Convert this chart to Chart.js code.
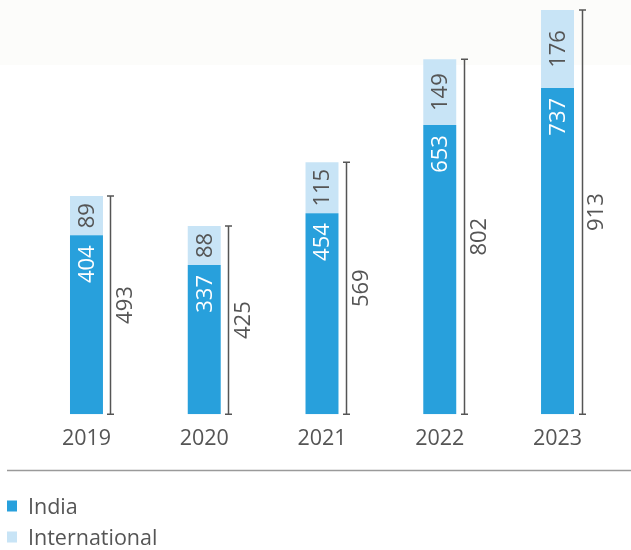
<!DOCTYPE html>
<html>
<head>
<meta charset="utf-8">
<script src="https://cdn.jsdelivr.net/npm/chart.js@4.4.0/dist/chart.umd.min.js"></script>
<style>
  html, body { margin: 0; padding: 0; background: #ffffff; }
  #wrap { position: relative; width: 631px; height: 550px; }
</style>
</head>
<body>
<div id="wrap"><canvas id="c"></canvas></div>
<script>
const categories = ['2019', '2020', '2021', '2022', '2023'];
const indiaValues = [404, 337, 454, 653, 737];
const internationalValues = [89, 88, 115, 149, 176];
const totalValues = [493, 425, 569, 802, 913];
const seriesNames = ['India', 'International'];

const TEXT = '#555555';
const FONT = '"Open Sans", Lato, sans-serif';

const decorPlugin = {
  id: 'decor',
  beforeDraw(chart) {
    const ctx = chart.ctx;
    ctx.save();
    ctx.fillStyle = '#fcfcfa';
    ctx.fillRect(0, 0, chart.width, 65);
    ctx.restore();
  },
  afterDatasetsDraw(chart) {
    const ctx = chart.ctx;
    const y = chart.scales.y;
    const m0 = chart.getDatasetMeta(0);
    const m1 = chart.getDatasetMeta(1);
    ctx.save();
    ctx.font = '22px ' + FONT;
    ctx.textBaseline = 'middle';
    categories.forEach((c, i) => {
      const b0 = m0.data[i];
      const b1 = m1.data[i];
      const cx = b0.x;
      const half = b0.width / 2;
      const right = cx + half;
      const bottom = y.getPixelForValue(0);
      const boundary = b0.y;
      const top = b1.y;
      // India label (white, anchored at top of segment)
      ctx.save();
      ctx.translate(cx + 1, boundary + 10);
      ctx.rotate(-Math.PI / 2);
      ctx.fillStyle = '#ffffff';
      ctx.textAlign = 'right';
      ctx.fillText(String(indiaValues[i]), 0, 0);
      ctx.restore();
      // International label (centered)
      ctx.save();
      ctx.translate(cx + 1, (boundary + top) / 2);
      ctx.rotate(-Math.PI / 2);
      ctx.fillStyle = TEXT;
      ctx.textAlign = 'center';
      ctx.fillText(String(internationalValues[i]), 0, 0);
      ctx.restore();
      // bracket
      const bx = Math.round(right + 7.5) + 0.5;
      ctx.strokeStyle = '#555555';
      ctx.lineWidth = 1.5;
      ctx.beginPath();
      ctx.moveTo(bx, top);
      ctx.lineTo(bx, bottom);
      ctx.moveTo(bx - 3.5, top);
      ctx.lineTo(bx + 3.5, top);
      ctx.moveTo(bx - 3.5, bottom);
      ctx.lineTo(bx + 3.5, bottom);
      ctx.stroke();
      // total label
      ctx.save();
      ctx.translate(right + 23, (top + bottom) / 2);
      ctx.rotate(-Math.PI / 2);
      ctx.fillStyle = TEXT;
      ctx.textAlign = 'center';
      ctx.fillText(String(totalValues[i]), 0, 0);
      ctx.restore();
    });
    ctx.restore();
  },
  afterDraw(chart) {
    const ctx = chart.ctx;
    ctx.save();
    // separator line
    ctx.strokeStyle = '#9a9a9a';
    ctx.lineWidth = 1.5;
    ctx.beginPath();
    ctx.moveTo(7, 470.5);
    ctx.lineTo(chart.width, 470.5);
    ctx.stroke();
    // legend
    ctx.font = '21.5px ' + FONT;
    ctx.textBaseline = 'middle';
    ctx.textAlign = 'left';
    const rows = [506, 537];
    chart.data.datasets.forEach((ds, i) => {
      ctx.fillStyle = ds.backgroundColor;
      ctx.fillRect(7, rows[i] - 5.5, 10, 11);
      ctx.fillStyle = TEXT;
      ctx.fillText(ds.label, 28, rows[i] + 2);
    });
    ctx.restore();
  }
};

new Chart(document.getElementById('c'), {
  type: 'bar',
  data: {
    labels: categories,
    datasets: [
      { label: seriesNames[0], data: indiaValues, backgroundColor: '#28a0dc', borderWidth: 0 },
      { label: seriesNames[1], data: internationalValues, backgroundColor: '#c8e4f6', borderWidth: 0 }
    ]
  },
  options: {
    responsive: true,
    maintainAspectRatio: false,
    animation: false,
    layout: { padding: { left: 27.6, right: 14.6, top: 10, bottom: 86 } },
    datasets: { bar: { categoryPercentage: 1, barPercentage: 0.28 } },
    plugins: { legend: { display: false }, tooltip: { enabled: false } },
    scales: {
      x: {
        stacked: true,
        grid: { display: false, drawTicks: false },
        border: { display: false },
        ticks: { color: TEXT, font: { family: FONT, size: 21.5 }, padding: 12 }
      },
      y: {
        stacked: true,
        display: false,
        min: 0,
        max: 913
      }
    }
  },
  plugins: [decorPlugin]
});
</script>
</body>
</html>
